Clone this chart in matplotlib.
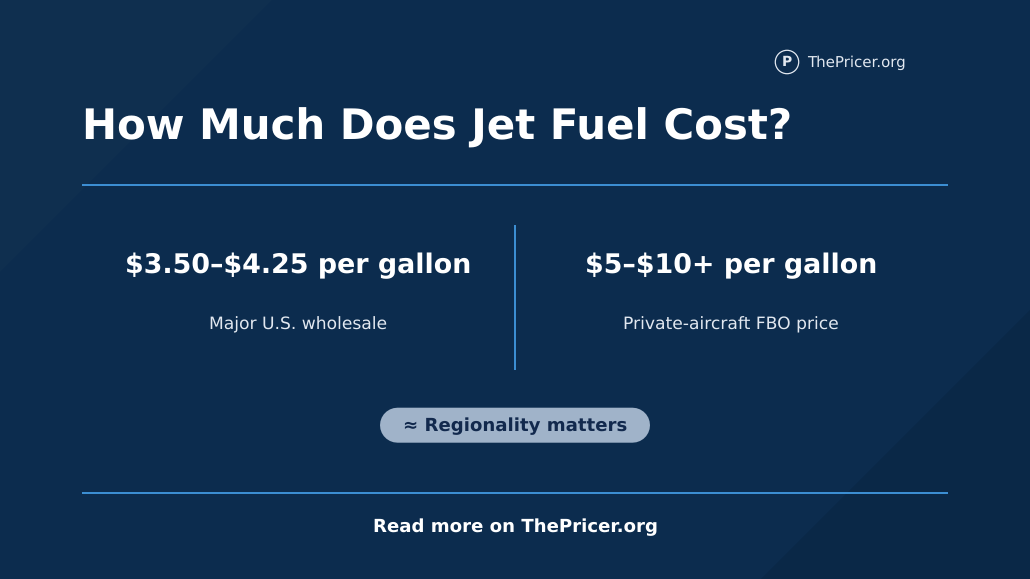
# Jet fuel price card
import matplotlib
matplotlib.use("Agg")
import matplotlib.pyplot as plt
import matplotlib.patches as mpatches

plt.rcParams["text.parse_math"] = False
plt.rcParams["text.hinting"] = "no_hinting"

W, H = 1030, 579

title = "How Much Does Jet Fuel Cost?"
brand = "ThePricer.org"
prices = ["$3.50–$4.25 per gallon", "$5–$10+ per gallon"]
price_labels = ["Major U.S. wholesale", "Private-aircraft FBO price"]
badge = "≈ Regionality matters"
footer = "Read more on ThePricer.org"

bg = "#0c2c4e"
bg_light = "#0f2f4f"
bg_dark = "#0a2847"
rule = "#4299e1"
soft = "#e2e8f0"
navy = "#12294d"
pill = "#a0b3c9"

fig = plt.figure(figsize=(W / 100, H / 100), dpi=100)
ax = fig.add_axes([0, 0, 1, 1])
ax.set_xlim(0, W)
ax.set_ylim(H, 0)
ax.axis("off")

# background and the two faint corner bands
ax.add_patch(mpatches.Rectangle((0, 0), W, H, fc=bg, ec="none"))
ax.add_patch(mpatches.Polygon([(0, 0), (272, 0), (0, 272)], fc=bg_light, ec="none"))
ax.add_patch(mpatches.Polygon([(W, 310), (W, H), (761, H)], fc=bg_dark, ec="none"))

# rules
ax.plot([82, 948], [185, 185], color=rule, lw=1.3, solid_capstyle="butt")
ax.plot([82, 948], [493, 493], color=rule, lw=1.3, solid_capstyle="butt")
ax.plot([515, 515], [225, 370], color=rule, lw=1.3, solid_capstyle="butt")

# logo
ax.add_patch(mpatches.Circle((787, 62), 11.7, fc="none", ec=soft, lw=0.9))
ax.text(787, 62.5, "P", color=soft, fontsize=10, fontweight="bold", ha="center", va="center")
ax.text(807.3, 62.5, brand, color=soft, fontsize=10.8, ha="left", va="center")

ax.text(82, 128.5, title, color="white", fontsize=30.15, fontweight="bold", ha="left", va="center")

# two price columns
for x, price, label in zip([298, 731], prices, price_labels):
    ax.text(x, 265.5, price, color="white", fontsize=19.35, fontweight="bold", ha="center", va="center")
    ax.text(x, 324.5, label, color=soft, fontsize=12.3, ha="center", va="center")

# badge pill, one thick line with round ends
ax.plot([397.5, 632.5], [425.2, 425.2], color=pill, lw=35 * 0.72, solid_capstyle="round", snap=False)
ax.text(515, 426.5, badge, color=navy, fontsize=13.1, fontweight="bold", ha="center", va="center")

ax.text(515, 527.5, footer, color="white", fontsize=13.05, fontweight="bold", ha="center", va="center")

fig.savefig("out.png", dpi=100)
